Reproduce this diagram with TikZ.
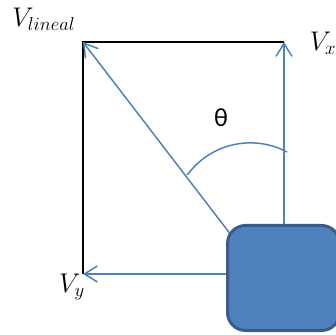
\documentclass[tikz,border=0pt]{standalone}
\usepackage{fontspec}
\newfontfamily\calib{Carlito}
\usetikzlibrary{arrows.meta, positioning}
\definecolor{cLine}{RGB}{79,129,189}
\definecolor{cFill}{RGB}{79,129,189}
\definecolor{cEdge}{RGB}{56,93,138}
\newcommand{\biglbl}[1]{\scalebox{1.3}{$#1$}}
\tikzset{
	vec/.style  ={-{Straight Barb[length=13pt, width=16pt]}, draw=cLine, line width=1.5pt},
	frame/.style={draw=black, line width=1.3pt},
	body/.style ={rectangle, rounded corners=18pt, draw=cEdge, line width=3pt, fill=cFill,
		minimum width=112pt, minimum height=105pt},
	lbl/.style  ={font=\fontsize{22}{26}\selectfont, inner sep=0pt},
}
\begin{document}
\begin{tikzpicture}[x=1pt, y=1pt]
	\useasboundingbox (0,0) rectangle (336,334);
	\clip (0,0) rectangle (336,334);
	% corners of the velocity rectangle
	\coordinate (tl) at (83,292);
	\coordinate (tr) at (284,292);
	\coordinate (bl) at (83,60);
	\coordinate (o)  at (284,60);
	\coordinate (od) at (261,60);
	\draw[frame] (bl) -- (tl) -- (tr);
	\draw[vec] (o) -- (tr);
	\draw[vec] (o) -- (bl);
	\draw[vec] (od) -- (tl);
	\draw[cLine, line width=1.5pt] (287,182) arc[start angle=62, end angle=144, radius=78pt];
	\node[body] (obj) at (283.5,56) {};
	\node[lbl] (vl) at (44,315) {\biglbl{V_{lineal}}};
	\node[lbl] (vx) at (323,291) {\biglbl{V_x}};
	\node[lbl] (vy) at (72,47) {\biglbl{V_y}};
	\node[lbl, font=\calib\fontsize{26}{30}\selectfont] (th) at (221,216) {θ};
\end{tikzpicture}
\end{document}
